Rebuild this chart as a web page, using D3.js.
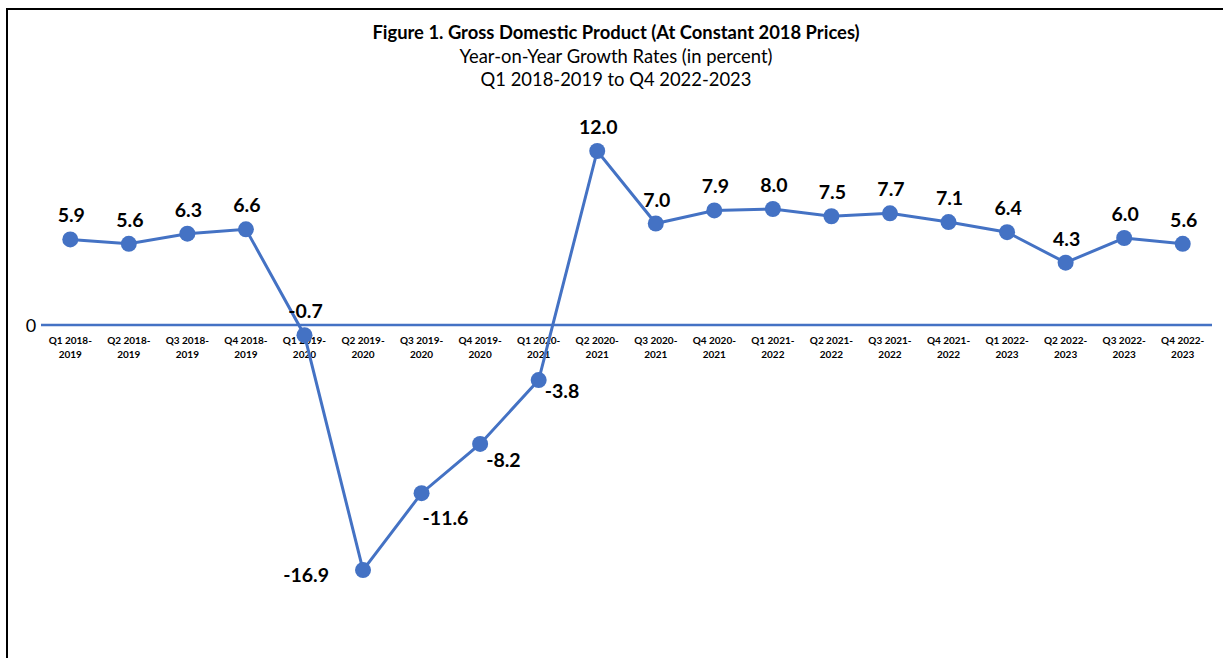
<!DOCTYPE html>
<html lang="en">
<head>
    <meta charset="UTF-8">
    <title>GDP Growth</title>
    <style>
        body, html {
            margin: 0;
            padding: 0;
            width: 100%;
            height: 100%;
            overflow: hidden;
            background: #fff;
        }
        svg { display: block; }
        .title { font: bold 18.4px Lato, sans-serif; fill: #000; }
        .subtitle { font: 18.4px Lato, sans-serif; fill: #000; }
        .tick-label { font: bold 10px Lato, sans-serif; fill: #000; }
        .val { font: bold 19.5px Lato, sans-serif; fill: #000; }
    </style>
</head>
<body>
<svg></svg>
<script src="https://d3js.org/d3.v7.min.js"></script>
<script>
    const quarters = ["Q1", "Q2", "Q3", "Q4", "Q1", "Q2", "Q3", "Q4", "Q1", "Q2", "Q3", "Q4",
                      "Q1", "Q2", "Q3", "Q4", "Q1", "Q2", "Q3", "Q4"];
    const periods = ["2018-2019", "2018-2019", "2018-2019", "2018-2019",
                     "2019-2020", "2019-2020", "2019-2020", "2019-2020",
                     "2020-2021", "2020-2021", "2020-2021", "2020-2021",
                     "2021-2022", "2021-2022", "2021-2022", "2021-2022",
                     "2022-2023", "2022-2023", "2022-2023", "2022-2023"];
    const growth = [5.9, 5.6, 6.3, 6.6, -0.7, -16.9, -11.6, -8.2, -3.8, 12.0,
                    7.0, 7.9, 8.0, 7.5, 7.7, 7.1, 6.4, 4.3, 6.0, 5.6];
    const titleLines = ["Figure 1. Gross Domestic Product (At Constant 2018 Prices)",
                        "Year-on-Year Growth Rates (in percent)",
                        "Q1 2018-2019 to Q4 2022-2023"];

    const width = 1223, height = 658;
    const svg = d3.select("svg").attr("width", width).attr("height", height);

    // outer frame (only top and left edges show)
    svg.append("path")
        .attr("d", `M7,${height} L7,9 L${width},9`)
        .attr("fill", "none")
        .attr("stroke", "#000")
        .attr("stroke-width", 2);

    const cats = d3.range(growth.length);
    const x = d3.scaleBand().domain(cats).range([41, 1212]);
    const y = d3.scaleLinear().domain([0, 12]).range([325, 151]);
    const cx = i => x(i) + x.bandwidth() / 2;

    // titles
    svg.selectAll(".ttl")
        .data(titleLines)
        .enter().append("text")
        .attr("class", (d, i) => i === 0 ? "title" : "subtitle")
        .attr("x", 616)
        .attr("y", (d, i) => 39 + i * 23.5)
        .attr("text-anchor", "middle")
        .text(d => d);

    // zero line doubles as the category axis
    svg.append("line")
        .attr("x1", x.range()[0]).attr("x2", x.range()[1])
        .attr("y1", y(0)).attr("y2", y(0))
        .attr("stroke", "#4472C4")
        .attr("stroke-width", 2.5);

    svg.append("text")
        .attr("x", 31).attr("y", y(0) + 7)
        .attr("text-anchor", "middle")
        .style("font", "18px Lato, sans-serif")
        .text("0");

    const tl = svg.selectAll(".tick-label")
        .data(cats)
        .enter().append("text")
        .attr("class", "tick-label")
        .attr("text-anchor", "middle")
        .attr("x", cx)
        .attr("y", y(0) + 19);
    tl.append("tspan").attr("x", cx).text(i => quarters[i] + " " + periods[i].slice(0, 5));
    tl.append("tspan").attr("x", cx).attr("dy", 14).text(i => periods[i].slice(5));

    // series
    const line = d3.line().x((d, i) => cx(i)).y(d => y(d));
    svg.append("path")
        .datum(growth)
        .attr("d", line)
        .attr("fill", "none")
        .attr("stroke", "#4472C4")
        .attr("stroke-width", 3);

    svg.selectAll(".dot")
        .data(growth)
        .enter().append("circle")
        .attr("class", "dot")
        .attr("cx", (d, i) => cx(i))
        .attr("cy", d => y(d))
        .attr("r", 8)
        .attr("fill", "#4472C4");

    // labels: default above the marker, a few were moved by hand in the original
    const moved = {
        5: { dx: -34, dy: 12, anchor: "end" },
        6: { dx: 1, dy: 32, anchor: "start" },
        7: { dx: 6, dy: 23, anchor: "start" },
        8: { dx: 6, dy: 18, anchor: "start" }
    };
    svg.selectAll(".val")
        .data(growth)
        .enter().append("text")
        .attr("class", "val")
        .attr("x", (d, i) => cx(i) + (moved[i] ? moved[i].dx : 1))
        .attr("y", (d, i) => y(d) + (moved[i] ? moved[i].dy : -17))
        .attr("text-anchor", (d, i) => moved[i] ? moved[i].anchor : "middle")
        .text(d => d.toFixed(1));
</script>
</body>
</html>
